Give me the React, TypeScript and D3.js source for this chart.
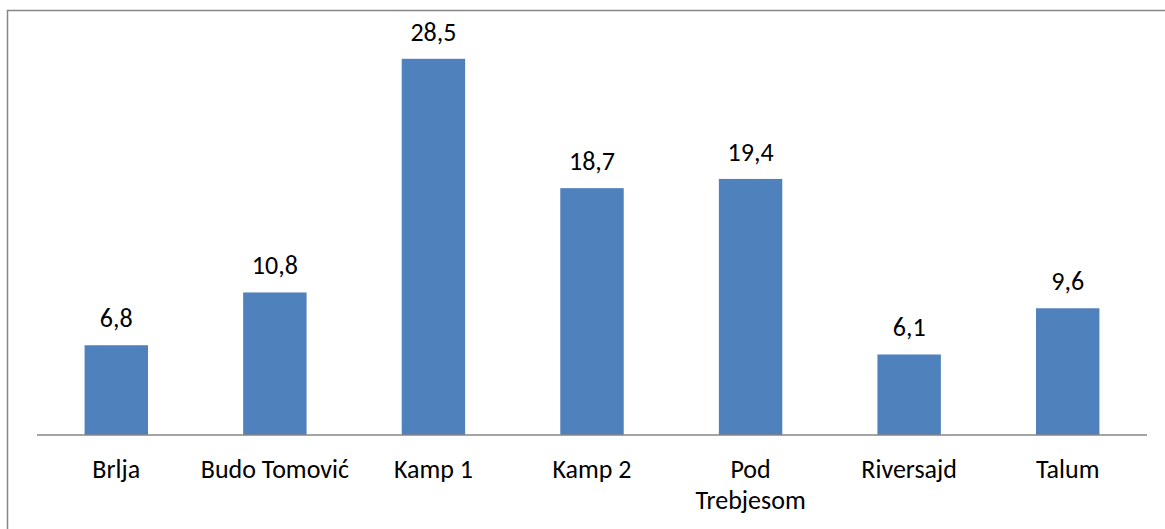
import React from 'react';
import * as d3 from 'd3';

// Values
const categories = ['Brlja', 'Budo Tomović', 'Kamp 1', 'Kamp 2', 'Pod Trebjesom', 'Riversajd', 'Talum'];
const values = [6.8, 10.8, 28.5, 18.7, 19.4, 6.1, 9.6];
const categoryLines: string[][] = [['Brlja'], ['Budo Tomović'], ['Kamp 1'], ['Kamp 2'], ['Pod', 'Trebjesom'], ['Riversajd'], ['Talum']];

const W = 1165;
const H = 529;
const FONT = 'Calibri, Carlito, "Open Sans", sans-serif';

const App = () => {
  const margin = { left: 37, right: 18, top: 39, bottom: 94 };
  const baseline = H - margin.bottom;

  const x = d3.scaleBand<string>()
    .domain(categories)
    .range([margin.left, W - margin.right])
    .paddingInner(0.6)
    .paddingOuter(0.3);

  const y = d3.scaleLinear()
    .domain([0, 30])
    .range([baseline, margin.top]);

  const fmt = (v: number) => v.toFixed(1).replace('.', ',');
  const cx = (c: string) => (x(c) as number) + x.bandwidth() / 2;

  return (
    <svg width={W} height={H} style={{ position: 'absolute', left: 0, top: 0, background: '#fff' }}>
      {/* frame */}
      <rect x={7.5} y={10.5} width={W} height={H} fill="none" stroke="#868686" strokeWidth={1.5} />

      {/* bars */}
      {values.map((v, i) => (
        <rect
          key={categories[i]}
          x={x(categories[i])}
          y={y(v)}
          width={x.bandwidth()}
          height={baseline - y(v)}
          fill="#4F81BD"
        />
      ))}

      {/* value labels */}
      {values.map((v, i) => (
        <text
          key={'v' + i}
          x={cx(categories[i])}
          y={y(v) - 18}
          textAnchor="middle"
          fontFamily={FONT}
          fontSize={26}
          fill="#000"
        >
          {fmt(v)}
        </text>
      ))}

      {/* axis line */}
      <line x1={margin.left} x2={W - margin.right} y1={baseline} y2={baseline} stroke="#868686" strokeWidth={1.5} />

      {/* category labels */}
      {categoryLines.map((lines, i) => (
        <text
          key={'c' + i}
          y={478}
          textAnchor="middle"
          fontFamily={FONT}
          fontSize={26}
          fill="#000"
        >
          {lines.map((l, j) => (
            <tspan key={j} x={cx(categories[i])} dy={j === 0 ? 0 : 31}>{l}</tspan>
          ))}
        </text>
      ))}
    </svg>
  );
};

export default App;
